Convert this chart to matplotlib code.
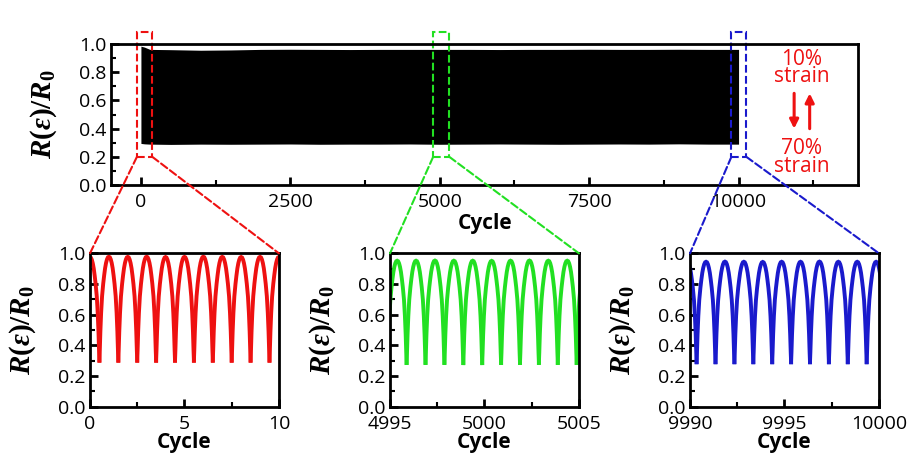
import numpy as np
import matplotlib.pyplot as plt
from matplotlib.patches import Rectangle, ConnectionPatch
from matplotlib.ticker import MultipleLocator

plt.rcParams['font.family'] = ['Open Sans', 'DejaVu Sans']
plt.rcParams['mathtext.fontset'] = 'custom'
plt.rcParams['mathtext.it'] = 'Liberation Serif:bold:italic'
plt.rcParams['mathtext.rm'] = 'Liberation Serif:bold'
plt.rcParams['mathtext.bf'] = 'Liberation Serif:bold'

# envelope of the 10000-cycle test (top panel)
env_cycle = [0, 60, 150, 500, 1000, 1500, 2000, 2500, 3000, 3500, 4000, 4500,
             5000, 5500, 6000, 6500, 7000, 7500, 8000, 8500, 9000, 9500, 10000]
env_upper = [0.985, 0.978, 0.962, 0.960, 0.956, 0.958, 0.962, 0.963, 0.962, 0.961, 0.962, 0.962,
             0.962, 0.962, 0.961, 0.962, 0.962, 0.963, 0.962, 0.962, 0.963, 0.962, 0.962]
env_lower = [0.295, 0.292, 0.290, 0.288, 0.290, 0.289, 0.290, 0.291, 0.289, 0.290, 0.290, 0.291,
             0.289, 0.290, 0.291, 0.290, 0.289, 0.290, 0.291, 0.290, 0.292, 0.290, 0.290]

# one loading cycle, valley -> peak -> valley, normalised 0..1
phase = [0.0, 0.02, 0.05, 0.09, 0.14, 0.20, 0.25, 0.30, 0.35, 0.40, 0.45, 0.50,
         0.55, 0.60, 0.65, 0.70, 0.75, 0.80, 0.86, 0.91, 0.95, 0.98, 1.0]
shape = [0.0, 0.10, 0.28, 0.46, 0.62, 0.74, 0.82, 0.89, 0.94, 0.975, 0.995, 1.0,
         0.995, 0.975, 0.94, 0.89, 0.82, 0.74, 0.62, 0.46, 0.28, 0.10, 0.0]

# cycle starts (valleys) and levels of each zoomed window
red_start = [-0.5, 0.5, 1.5, 2.5, 3.5, 4.5, 5.5, 6.5, 7.5, 8.5, 9.5]
red_peak = [0.975, 0.978, 0.977, 0.978, 0.976, 0.977, 0.978, 0.977, 0.976, 0.977, 0.977]
red_valley = [0.30, 0.30, 0.30, 0.30, 0.30, 0.30, 0.30, 0.30, 0.30, 0.30, 0.30]

green_start = [4994.88, 4995.88, 4996.88, 4997.88, 4998.88, 4999.88,
               5000.88, 5001.88, 5002.88, 5003.88, 5004.88]
green_peak = [0.952, 0.952, 0.953, 0.952, 0.952, 0.951, 0.952, 0.953, 0.952, 0.952, 0.952]
green_valley = [0.285, 0.285, 0.286, 0.285, 0.284, 0.285, 0.285, 0.286, 0.285, 0.285, 0.285]

blue_start = [9989.35, 9990.35, 9991.35, 9992.35, 9993.35, 9994.35,
              9995.35, 9996.35, 9997.35, 9998.35, 9999.35]
blue_peak = [0.945, 0.945, 0.946, 0.945, 0.944, 0.945, 0.945, 0.946, 0.945, 0.945, 0.945]
blue_valley = [0.29, 0.29, 0.29, 0.29, 0.29, 0.29, 0.29, 0.29, 0.29, 0.29, 0.29]

windows = [
    (red_start, red_peak, red_valley, (0, 10), [0, 5, 10], (-67, 190), '#ee1111'),
    (green_start, green_peak, green_valley, (4995, 5005), [4995, 5000, 5005], (4890, 5160), '#22e022'),
    (blue_start, blue_peak, blue_valley, (9990, 10000), [9990, 9995, 10000], (9880, 10130), '#1a1acc'),
]

ylab = r'$R(\varepsilon)/R_0$'


def style(ax):
    for s in ax.spines.values():
        s.set_linewidth(2)
    ax.tick_params(which='both', direction='in', top=False, right=False, labelsize=14)
    ax.tick_params(axis='x', pad=6)
    ax.tick_params(which='major', length=6, width=2)
    ax.tick_params(which='minor', length=3.5, width=1.5)
    ax.set_ylim(0, 1.0)
    ax.yaxis.set_major_locator(MultipleLocator(0.2))
    ax.yaxis.set_minor_locator(MultipleLocator(0.1))
    ax.set_yticklabels([f'{v:.1f}' for v in ax.get_yticks()])


fig = plt.figure(figsize=(9.2, 4.69), dpi=100)

ax = fig.add_axes([0.1207, 0.6055, 0.812, 0.3006])
ax.fill_between(env_cycle, env_lower, env_upper, color='black', lw=0)
ax.set_xlim(-500, 12000)
ax.xaxis.set_major_locator(MultipleLocator(2500))
ax.xaxis.set_minor_locator(MultipleLocator(1250))
style(ax)
ax.set_xlabel('Cycle', fontsize=15, fontweight='bold', labelpad=1)
ax.set_ylabel(ylab, fontsize=21, labelpad=14)

red = '#ee1111'
ax.text(11060, 0.83, '10%\nstrain', color=red, fontsize=15, ha='center', va='center', linespacing=0.8)
ax.text(11060, 0.195, '70%\nstrain', color=red, fontsize=15, ha='center', va='center', linespacing=0.8)
ax.annotate('', xy=(10930, 0.38), xytext=(10930, 0.67),
            arrowprops=dict(arrowstyle='-|>', lw=2.2, color=red, mutation_scale=13))
ax.annotate('', xy=(11190, 0.67), xytext=(11190, 0.38),
            arrowprops=dict(arrowstyle='-|>', lw=2.2, color=red, mutation_scale=13))

lefts = [0.0978, 0.4239, 0.75]
for left, (starts, peaks, valleys, xlim, xt, box, c) in zip(lefts, windows):
    axi = fig.add_axes([left, 0.1328, 0.2054, 0.327])
    for s, p, v in zip(starts, peaks, valleys):
        x = s + np.array(phase)
        y = v + (p - v) * np.array(shape)
        axi.plot(x, y, color=c, lw=2.8, solid_joinstyle='miter')
    axi.set_xlim(*xlim)
    axi.set_xticks(xt)
    axi.set_xticklabels([str(t) for t in xt])
    axi.xaxis.set_minor_locator(MultipleLocator(2.5))
    style(axi)
    axi.set_xlabel('Cycle', fontsize=15, fontweight='bold', labelpad=-1)
    axi.set_ylabel(ylab, fontsize=21, labelpad=14)

    rect = Rectangle((box[0], 0.2), box[1] - box[0], 0.885, fill=False, ls='--',
                     lw=1.5, ec=c, clip_on=False)
    ax.add_patch(rect)
    for xa, xb in [(box[0], 0), (box[1], 1)]:
        con = ConnectionPatch(xyA=(xa, 0.2), coordsA=ax.transData, xyB=(xb, 1),
                              coordsB=axi.transAxes, ls='--', lw=1.5, color=c)
        fig.add_artist(con)

fig.savefig('out.png', dpi=100)
